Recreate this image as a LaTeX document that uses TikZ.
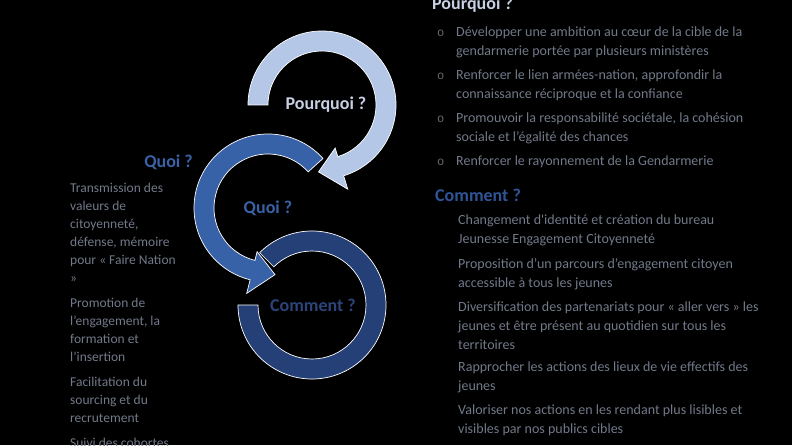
\documentclass[tikz,border=0pt]{standalone}
\usepackage{fontspec}
\setmainfont{Carlito}
\newfontfamily\bulletfont{Liberation Mono}

\definecolor{whyfill}{RGB}{180,199,231}
\definecolor{whatfill}{RGB}{56,98,168}
\definecolor{howfill}{RGB}{36,64,118}
\definecolor{whytext}{RGB}{200,208,228}
\definecolor{whattext}{RGB}{58,98,167}
\definecolor{howtext}{RGB}{44,68,122}
\definecolor{howhead}{RGB}{47,85,151}
\definecolor{bodygray}{RGB}{114,121,137}
\definecolor{bulletgray}{RGB}{105,105,105}

\tikzset{
  arcshape/.style={draw=white, line width=0.7pt},
  arclabel/.style={font=\fontsize{18}{22}\selectfont\bfseries, inner sep=0, anchor=base},
  header/.style={font=\fontsize{18}{22}\selectfont\bfseries, inner sep=0},
  bodytext/.style={font=\fontsize{14}{19}\selectfont, text=bodygray, align=left, inner sep=0, anchor=north west},
  lefttext/.style={bodytext, font=\fontsize{13.5}{18}\selectfont},
  bulletmark/.style={font=\bulletfont\fontsize{12}{19}\selectfont, text=bulletgray, inner sep=0, anchor=north west},
}

\begin{document}
\begin{tikzpicture}[x=1pt, y=1pt]
  \useasboundingbox (0,0) rectangle (792,445);
  \clip (0,0) rectangle (792,445);
  \fill[black] (0,0) rectangle (792,445);

  % Comment ring (open on the upper left)
  \filldraw[arcshape, fill=howfill, shift={(312,140)}]
    (135:74pt) arc[start angle=135, end angle=-180, radius=74pt]
    -- (180:54pt) arc[start angle=-180, end angle=135, radius=54pt] -- cycle;

  % Quoi arrow
  \filldraw[arcshape, fill=whatfill, shift={(268,237)}]
    (42:74pt) arc[start angle=42, end angle=256, radius=74pt]
    -- (256:88pt) -- (276:67pt) -- (256:45pt)
    -- (256:54pt) arc[start angle=256, end angle=42, radius=54pt] -- cycle;

  % Pourquoi arrow
  \filldraw[arcshape, fill=whyfill, shift={(322,340)}]
    (180:74pt) arc[start angle=180, end angle=-73, radius=74pt]
    -- (-73:88pt) -- (-93:67pt) -- (-73:45pt)
    -- (-73:54pt) arc[start angle=-73, end angle=180, radius=54pt] -- cycle;

  % Labels in the arrows
  \node[arclabel, text=whytext] (whylbl) at (326,335) {Pourquoi ?};
  \node[arclabel, text=whattext] (whatlbl) at (268,231) {Quoi ?};
  \node[arclabel, text=howtext] (howlbl) at (313,134) {Comment ?};

  % Pourquoi (right, top)
  \node[header, text=whytext, anchor=base west] (whyhead) at (432,435) {Pourquoi ?};
  \node[bodytext] (why1) at (456,422.3) {\strut Développer une ambition au cœur de la cible de la\\gendarmerie portée par plusieurs ministères};
  \node[bodytext] (why2) at (456,379.3) {\strut Renforcer le lien armées-nation, approfondir la\\connaissance réciproque et la confiance};
  \node[bodytext] (why3) at (456,336.3) {\strut Promouvoir la responsabilité sociétale, la cohésion\\sociale et l’égalité des chances};
  \node[bodytext] (why4) at (456,293.3) {\strut Renforcer le rayonnement de la Gendarmerie};
  \foreach \i in {1,...,4} {
    \node[bulletmark] (dot\i) at ([xshift=-19pt]why\i.north west) {\strut o};
  }

  % Comment (right, bottom)
  \node[header, text=howhead, anchor=base west] (howhead) at (435,243) {Comment ?};
  \node[bodytext] (how1) at (458,234.3) {\strut Changement d\textquotesingle identité et création du bureau\\Jeunesse Engagement Citoyenneté};
  \node[bodytext] (how2) at (458,190.3) {\strut Proposition d’un parcours d’engagement citoyen\\accessible à tous les jeunes};
  \node[bodytext] (how3) at (458,147.3) {\strut Diversification des partenariats pour « aller vers » les\\jeunes et être présent au quotidien sur tous les\\territoires};
  \node[bodytext] (how4) at (458,87.3) {\strut Rapprocher les actions des lieux de vie effectifs des\\jeunes};
  \node[bodytext] (how5) at (458,44.3) {\strut Valoriser nos actions en les rendant plus lisibles et\\visibles par nos publics cibles};

  % Quoi (left)
  \node[header, text=whattext, anchor=base east] (whathead) at (193,277) {Quoi ?};
  \node[lefttext] (what1) at (70,265.6) {\strut Transmission des\\valeurs de\\citoyenneté,\\défense, mémoire\\pour « Faire Nation\\»};
  \node[lefttext] (what2) at (70,150.6) {\strut Promotion de\\l’engagement, la\\formation et\\l’insertion};
  \node[lefttext] (what3) at (70,71.6) {\strut Facilitation du\\sourcing et du\\recrutement};
  \node[lefttext] (what4) at (70,10.6) {\strut Suivi des cohortes};
\end{tikzpicture}
\end{document}
